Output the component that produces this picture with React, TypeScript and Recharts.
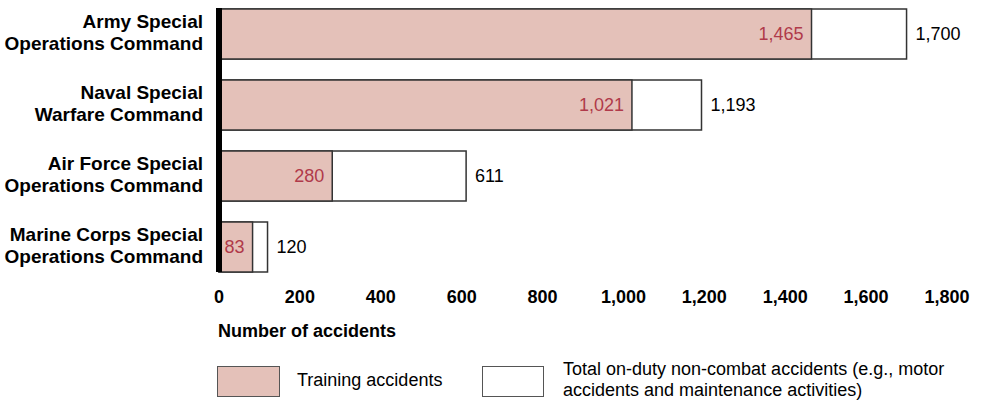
import React from "react";
import { BarChart, Bar, XAxis, YAxis, LabelList } from "recharts";

const categories = [
  "Army Special\nOperations Command",
  "Naval Special\nWarfare Command",
  "Air Force Special\nOperations Command",
  "Marine Corps Special\nOperations Command",
];
const trainingAccidents = [1465, 1021, 280, 83];
const totalAccidents = [1700, 1193, 611, 120];
const xTicks = [0, 200, 400, 600, 800, 1000, 1200, 1400, 1600, 1800];
const legendTraining = "Training accidents";
const legendTotal = [
  "Total on-duty non-combat accidents (e.g., motor",
  "accidents and maintenance activities)",
];
const axisTitle = "Number of accidents";

const data = categories.map((c, i) => ({
  category: c,
  training: trainingAccidents[i],
  total: totalAccidents[i],
}));

const FONT = '"Liberation Sans", Arial, Helvetica, sans-serif';
const PINK = "#e4c1b9";
const RED = "#b03a4a";
const fmt = (v: any) => Number(v).toLocaleString("en-US");

const YTick = (props: any) => {
  const { x, y, payload } = props;
  const lines = String(payload.value).split("\n");
  return (
    <text
      x={x}
      y={y}
      textAnchor="end"
      fontFamily={FONT}
      fontWeight="bold"
      fontSize={19}
      fill="#000"
    >
      <tspan x={x} y={y - 5.5}>{lines[0]}</tspan>
      <tspan x={x} y={y + 16.5}>{lines[1]}</tspan>
    </text>
  );
};

const XTick = (props: any) => {
  const { x, y, payload } = props;
  return (
    <text
      x={x}
      y={y + 31}
      textAnchor="middle"
      fontFamily={FONT}
      fontWeight="bold"
      fontSize={18}
      fill="#000"
    >
      {fmt(payload.value)}
    </text>
  );
};

const XTitle = (props: any) => {
  const vb = props.viewBox || {};
  return (
    <text
      x={vb.x - 1}
      y={vb.y + 65}
      textAnchor="start"
      fontFamily={FONT}
      fontWeight="bold"
      fontSize={18}
      fill="#000"
    >
      {axisTitle}
    </text>
  );
};

export default function App() {
  return (
    <div
      style={{
        position: "absolute",
        left: 0,
        top: 0,
        width: 983,
        height: 402,
        background: "#fff",
        fontFamily: FONT,
      }}
    >
      <BarChart
        width={983}
        height={402}
        layout="vertical"
        data={data}
        margin={{ top: 8, right: 36, bottom: 0, left: 0 }}
      >
        <XAxis
          type="number"
          domain={[0, 1800]}
          ticks={xTicks}
          axisLine={false}
          tickLine={false}
          tickSize={0}
          tickMargin={0}
          height={130}
          tick={<XTick />}
          interval={0}
          label={<XTitle />}
        />
        <YAxis
          yAxisId="a"
          type="category"
          dataKey="category"
          width={219}
          axisLine={{ stroke: "#000", strokeWidth: 6 }}
          tickLine={false}
          tickSize={0}
          tickMargin={16}
          tick={<YTick />}
          interval={0}
          padding={{ top: -10, bottom: -10 }}
        />
        <YAxis
          yAxisId="b"
          type="category"
          dataKey="category"
          hide
          padding={{ top: -10, bottom: -10 }}
        />
        <Bar
          dataKey="total"
          yAxisId="a"
          barSize={50}
          fill="#fff"
          stroke="#333"
          strokeWidth={1.5}
          isAnimationActive={false}
        >
          <LabelList
            dataKey="total"
            position="right"
            offset={9}
            fill="#000"
            fontSize={18}
            fontFamily={FONT}
            formatter={fmt}
          />
        </Bar>
        <Bar
          dataKey="training"
          yAxisId="b"
          barSize={50}
          fill={PINK}
          stroke="#333"
          strokeWidth={1.5}
          isAnimationActive={false}
        >
          <LabelList
            dataKey="training"
            position="insideRight"
            offset={8}
            fill={RED}
            fontSize={18}
            fontFamily={FONT}
            formatter={fmt}
          />
        </Bar>
      </BarChart>
      <div
        style={{
          position: "absolute",
          left: 217,
          top: 366,
          width: 61,
          height: 29,
          background: PINK,
          border: "1.5px solid #555",
        }}
      />
      <div
        style={{
          position: "absolute",
          left: 297,
          top: 370,
          fontSize: 18,
          lineHeight: "21px",
          color: "#000",
          whiteSpace: "nowrap",
        }}
      >
        {legendTraining}
      </div>
      <div
        style={{
          position: "absolute",
          left: 482,
          top: 366,
          width: 60,
          height: 29,
          background: "#fff",
          border: "1.5px solid #555",
        }}
      />
      <div
        style={{
          position: "absolute",
          left: 563,
          top: 359,
          fontSize: 18,
          lineHeight: "21px",
          color: "#000",
          whiteSpace: "nowrap",
        }}
      >
        <div>{legendTotal[0]}</div>
        <div>{legendTotal[1]}</div>
      </div>
    </div>
  );
}
